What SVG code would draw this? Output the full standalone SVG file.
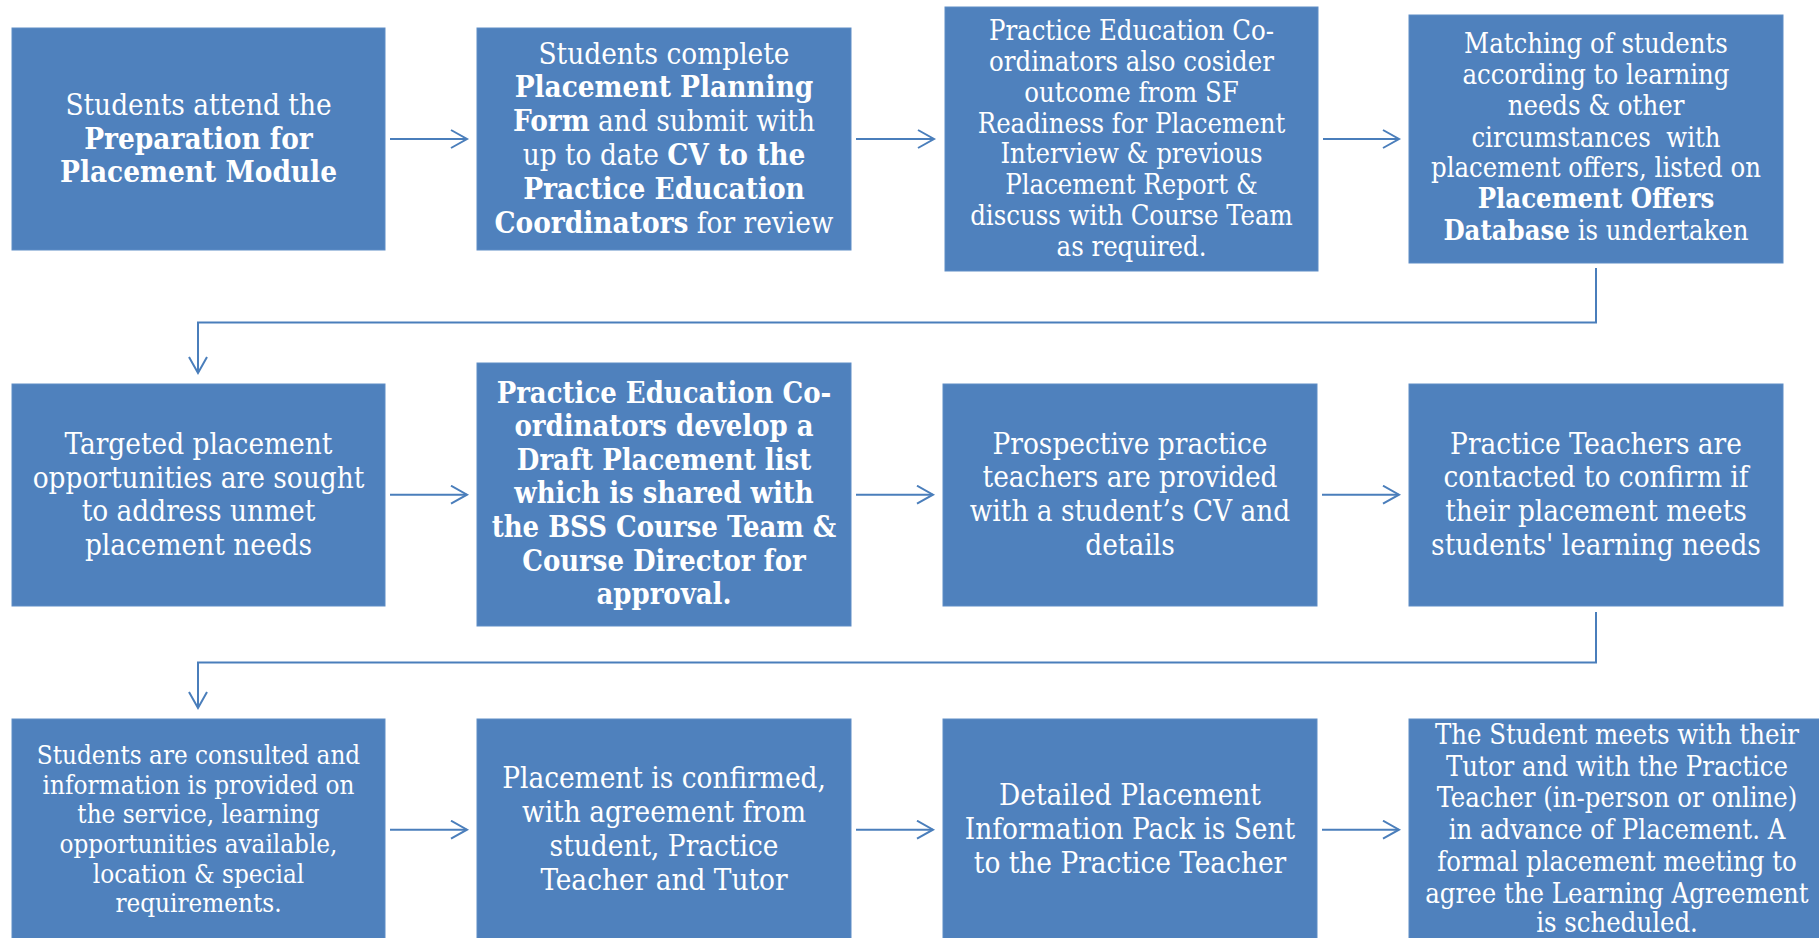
<svg xmlns="http://www.w3.org/2000/svg" width="1819" height="938" viewBox="0 0 1819 938">
<style>
.box{fill:#4F81BD;stroke:#5F8DC6;stroke-width:1}
text{font-family:"DejaVu Serif","Liberation Serif",serif;font-stretch:condensed;fill:#FFFFFF;text-anchor:middle}
.b{font-weight:bold}
.f265{font-size:29.4px}
.f245{font-size:27.2px}
.f232{font-size:25.8px}
.f26{font-size:28.9px}
.conn{fill:none;stroke:#4A7EBB;stroke-width:2}
</style>
<defs>
<marker id="ah" markerUnits="userSpaceOnUse" markerWidth="20" markerHeight="24" refX="17" refY="10" orient="auto">
<path d="M1,1 L17,10 L1,19" fill="none" stroke="#4A7EBB" stroke-width="2"/>
</marker>
</defs>
<rect width="1819" height="938" fill="#FFFFFF"/>
<g id="connectors">
<line class="conn" x1="390" y1="139" x2="467" y2="139" marker-end="url(#ah)"/>
<line class="conn" x1="856" y1="139" x2="934" y2="139" marker-end="url(#ah)"/>
<line class="conn" x1="1323" y1="139" x2="1399" y2="139" marker-end="url(#ah)"/>
<path class="conn" d="M1596,268 V322.5 H198 V373" marker-end="url(#ah)"/>
<line class="conn" x1="390" y1="494.7" x2="467" y2="494.7" marker-end="url(#ah)"/>
<line class="conn" x1="856" y1="494.7" x2="933" y2="494.7" marker-end="url(#ah)"/>
<line class="conn" x1="1322" y1="494.7" x2="1399" y2="494.7" marker-end="url(#ah)"/>
<path class="conn" d="M1596,612 V662.5 H198 V708" marker-end="url(#ah)"/>
<line class="conn" x1="390" y1="829.7" x2="467" y2="829.7" marker-end="url(#ah)"/>
<line class="conn" x1="856" y1="829.7" x2="933" y2="829.7" marker-end="url(#ah)"/>
<line class="conn" x1="1322" y1="829.7" x2="1399" y2="829.7" marker-end="url(#ah)"/>
</g>
<g id="n1">
<rect class="box" x="12" y="28" width="373" height="222"/>
<text class="f265"><tspan x="198.5" y="115">Students attend the</tspan><tspan class="b" x="198.5" y="149">Preparation for</tspan><tspan class="b" x="198.5" y="182">Placement Module</tspan></text>
</g>
<g id="n2">
<rect class="box" x="477" y="28" width="374" height="222"/>
<text class="f265"><tspan x="664" y="63.5">Students complete</tspan><tspan class="b" x="664" y="97.3">Placement Planning</tspan><tspan x="664" y="131"><tspan class="b">Form</tspan> and submit with</tspan><tspan x="664" y="165">up to date <tspan class="b">CV to the</tspan></tspan><tspan class="b" x="664" y="199">Practice Education</tspan><tspan x="664" y="232.5"><tspan class="b">Coordinators</tspan> for review</tspan></text>
</g>
<g id="n3">
<rect class="box" x="945" y="7" width="373" height="264"/>
<text class="f245"><tspan x="1131.5" y="40">Practice Education Co-</tspan><tspan x="1131.5" y="70.8">ordinators also cosider</tspan><tspan x="1131.5" y="101.7">outcome from SF</tspan><tspan x="1131.5" y="132.6">Readiness for Placement</tspan><tspan x="1131.5" y="163.4">Interview &amp; previous</tspan><tspan x="1131.5" y="194.3">Placement Report &amp;</tspan><tspan x="1131.5" y="225.2">discuss with Course Team</tspan><tspan x="1131.5" y="256">as required.</tspan></text>
</g>
<g id="n4">
<rect class="box" x="1409" y="15" width="374" height="248"/>
<text class="f245"><tspan x="1596" y="53.3">Matching of students</tspan><tspan x="1596" y="84.3">according to learning</tspan><tspan x="1596" y="115.3">needs &amp; other</tspan><tspan x="1596" y="146.5" xml:space="preserve">circumstances  with</tspan><tspan x="1596" y="177.4">placement offers, listed on</tspan><tspan class="b" x="1596" y="208.3">Placement Offers</tspan><tspan x="1596" y="240"><tspan class="b">Database</tspan> is undertaken</tspan></text>
</g>
<g id="n5">
<rect class="box" x="12" y="384" width="373" height="222"/>
<text class="f265"><tspan x="198.5" y="454">Targeted placement</tspan><tspan x="198.5" y="487.5">opportunities are sought</tspan><tspan x="198.5" y="521">to address unmet</tspan><tspan x="198.5" y="555">placement needs</tspan></text>
</g>
<g id="n6">
<rect class="box" x="477" y="363" width="374" height="263"/>
<text class="f26 b"><tspan x="664" y="402.7">Practice Education Co-</tspan><tspan x="664" y="436.2">ordinators develop a</tspan><tspan x="664" y="469.7">Draft Placement list</tspan><tspan x="664" y="503.2">which is shared with</tspan><tspan x="664" y="536.8">the BSS Course Team &amp;</tspan><tspan x="664" y="570.5">Course Director for</tspan><tspan x="664" y="604">approval.</tspan></text>
</g>
<g id="n7">
<rect class="box" x="943" y="384" width="374" height="222"/>
<text class="f265"><tspan x="1130" y="454">Prospective practice</tspan><tspan x="1130" y="487.3">teachers are provided</tspan><tspan x="1130" y="520.8">with a student’s CV and</tspan><tspan x="1130" y="554.5">details</tspan></text>
</g>
<g id="n8">
<rect class="box" x="1409" y="384" width="374" height="222"/>
<text class="f265"><tspan x="1596" y="454">Practice Teachers are</tspan><tspan x="1596" y="487.3">contacted to confirm if</tspan><tspan x="1596" y="521">their placement meets</tspan><tspan x="1596" y="555">students' learning needs</tspan></text>
</g>
<g id="n9">
<rect class="box" x="12" y="719" width="373" height="230"/>
<text class="f232"><tspan x="198.5" y="764">Students are consulted and</tspan><tspan x="198.5" y="793.5">information is provided on</tspan><tspan x="198.5" y="823">the service, learning</tspan><tspan x="198.5" y="853">opportunities available,</tspan><tspan x="198.5" y="882.5">location &amp; special</tspan><tspan x="198.5" y="912">requirements.</tspan></text>
</g>
<g id="n10">
<rect class="box" x="477" y="719" width="374" height="230"/>
<text class="f265"><tspan x="664" y="788.3">Placement is confirmed,</tspan><tspan x="664" y="822">with agreement from</tspan><tspan x="664" y="856">student, Practice</tspan><tspan x="664" y="890">Teacher and Tutor</tspan></text>
</g>
<g id="n11">
<rect class="box" x="943" y="719" width="374" height="230"/>
<text class="f265"><tspan x="1130" y="805">Detailed Placement</tspan><tspan x="1130" y="839">Information Pack is Sent</tspan><tspan x="1130" y="873.3">to the Practice Teacher</tspan></text>
</g>
<g id="n12">
<rect class="box" x="1409" y="719" width="420" height="230"/>
<text class="f245"><tspan x="1617" y="744.3">The Student meets with their</tspan><tspan x="1617" y="775.8">Tutor and with the Practice</tspan><tspan x="1617" y="807.3">Teacher (in-person or online)</tspan><tspan x="1617" y="839">in advance of Placement. A</tspan><tspan x="1617" y="870.7">formal placement meeting to</tspan><tspan x="1617" y="902.5">agree the Learning Agreement</tspan><tspan x="1617" y="932.3">is scheduled.</tspan></text>
</g>
</svg>
